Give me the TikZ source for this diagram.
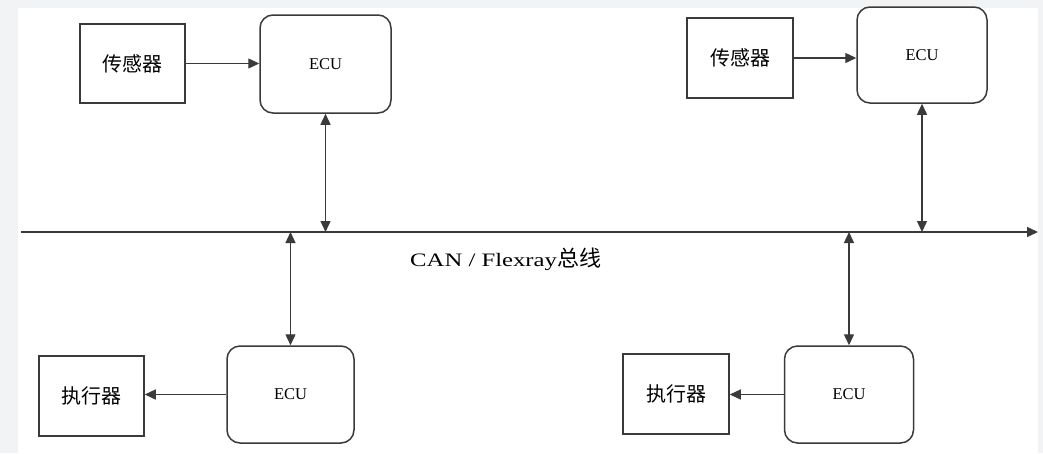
\documentclass[tikz,border=0pt]{standalone}
\usepackage{fontspec}
\setmainfont{Liberation Serif}
\newfontfamily\cjk{Noto Sans CJK SC}
\usetikzlibrary{arrows.meta}
\definecolor{edge}{HTML}{3A3A3A}
\definecolor{bgrey}{HTML}{F2F3F5}
\tikzset{
  box/.style={draw=edge, line width=1.5pt, fill=white, inner sep=0pt, font=\cjk\fontsize{20}{22}\selectfont},
  ecu/.style={draw=edge, line width=1.5pt, fill=white, rounded corners=13pt, inner sep=0pt, font=\fontsize{16.5}{18}\selectfont},
  conn/.style={draw=edge, line width=1.4pt},
  tip/.style={-{Triangle[length=11pt,width=10pt]}},
  tips/.style={{Triangle[length=11pt,width=10pt]}-{Triangle[length=11pt,width=10pt]}},
}
\begin{document}
\begin{tikzpicture}[x=1pt,y=-1pt]
\fill[bgrey] (0,0) rectangle (1043,453);
\fill[white] (18,8) rectangle (1038,453);
\useasboundingbox (0,0) rectangle (1043,453);
% top left
\node[box, minimum width=105pt, minimum height=79pt] (s1) at (132.5,63.5) {传感器};
\node[ecu, minimum width=131pt, minimum height=98pt] (e1) at (325.5,64) {ECU};
% top right
\node[box, minimum width=106pt, minimum height=80pt] (s2) at (740,58) {传感器};
\node[ecu, minimum width=130pt, minimum height=96pt] (e2) at (922,55) {ECU};
% bottom left
\node[box, minimum width=105pt, minimum height=80pt] (a1) at (91.5,396) {执行器};
\node[ecu, minimum width=127pt, minimum height=97pt] (e3) at (290.5,394.5) {ECU};
% bottom right
\node[box, minimum width=106pt, minimum height=80pt] (a2) at (676,394) {执行器};
\node[ecu, minimum width=129pt, minimum height=97pt] (e4) at (849,394.5) {ECU};
% bus
\coordinate (busL) at (21,232);
\coordinate (busR) at (1038,232);
\draw[conn, tip] (busL) -- (busR);
\node[anchor=west, inner sep=0pt] (lbl) at (410,259) {\scalebox{1.3}[1]{\fontsize{19}{21}\selectfont CAN / Flexray}{\cjk\fontsize{22}{24}\selectfont 总线}};
% connectors
\draw[conn, tip] (s1.east) -- (s1.east -| e1.west);
\draw[conn, tip] (s2.east) -- (s2.east -| e2.west);
\draw[conn, tip] (e3.west) -- (e3.west -| a1.east);
\draw[conn, tip] (e4.west) -- (e4.west -| a2.east);
\draw[conn, tips] (e1.south) -- (e1.south |- busL);
\draw[conn, tips] (e2.south) -- (e2.south |- busL);
\draw[conn, tips] (e3.north) -- (e3.north |- busL);
\draw[conn, tips] (e4.north) -- (e4.north |- busL);
\end{tikzpicture}
\end{document}
